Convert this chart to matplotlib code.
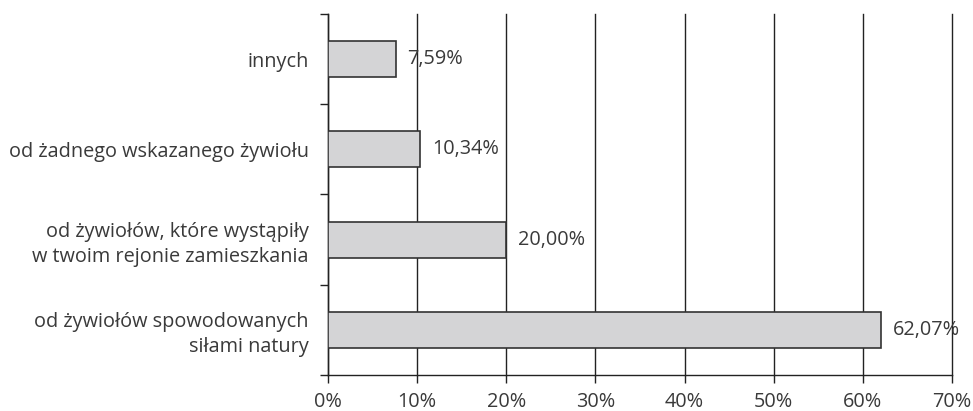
import matplotlib
matplotlib.use('Agg')
import matplotlib.pyplot as plt

# categories from top to bottom
categories = ['innych',
              'od żadnego wskazanego żywiołu',
              'od żywiołów, które wystąpiły\nw twoim rejonie zamieszkania',
              'od żywiołów spowodowanych\nsiłami natury']
values = [7.59, 10.34, 20.00, 62.07]
xticks = [0, 10, 20, 30, 40, 50, 60, 70]

plt.rcParams['font.family'] = ['Open Sans', 'DejaVu Sans']
txt = '#3a3a3a'
fs = 14.3

fig = plt.figure(figsize=(9.73, 4.11), dpi=100)
ax = fig.add_axes([328/973, 1-375/411, (952-328)/973, (375-14)/411])

n = len(categories)
ypos = [n - 1 - i for i in range(n)]

ax.set_axisbelow(True)
ax.grid(axis='x', color='#222222', linewidth=1)
ax.barh(ypos, values, height=0.4, color='#d4d4d6', edgecolor='#333333', linewidth=1.2, zorder=3)

for y, v in zip(ypos, values):
    ax.text(v + 1.3, y, ('%.2f' % v).replace('.', ',') + '%', va='center', ha='left',
            fontsize=fs, color=txt, zorder=4)

ax.set_xlim(0, 70)
ax.set_ylim(-0.5, n - 0.5)
ax.set_xticks(xticks)
ax.set_xticklabels([str(t) + '%' for t in xticks])
ax.set_yticks(ypos)
ax.set_yticklabels(categories, linespacing=1.3)
ax.set_yticks([i - 0.5 for i in range(n + 1)], minor=True)

ax.tick_params(axis='y', which='major', length=0, pad=14, labelsize=fs, labelcolor=txt)
ax.tick_params(axis='y', which='minor', length=6, width=1, color='#222222')
ax.tick_params(axis='x', length=6, width=1, color='#222222', pad=6, labelsize=fs, labelcolor=txt)

# keep the last gridline (70%) fully visible
for gl in ax.get_xgridlines():
    gl.set_clip_on(False)

for s in ['top', 'right']:
    ax.spines[s].set_visible(False)
for s in ['left', 'bottom']:
    ax.spines[s].set_color('#222222')
    ax.spines[s].set_linewidth(1)

fig.savefig('out.png', dpi=100)
